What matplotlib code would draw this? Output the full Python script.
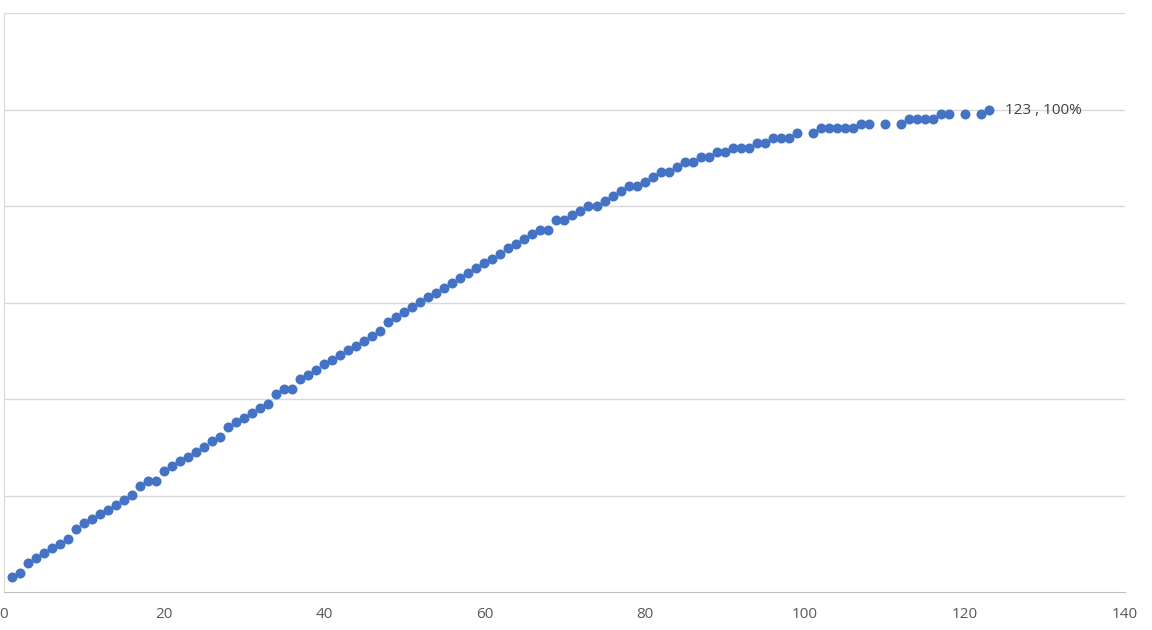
import numpy as np
import matplotlib.pyplot as plt

# x positions (some ranks are missing in the source)
x_vals = list(range(1, 100)) + [101, 102, 103, 104, 105, 106, 107, 108, 110,
                                 112, 113, 114, 115, 116, 117, 118, 120, 122, 123]

# cumulative percentage
cum_pct = [
    3.2, 4.0, 6.1, 7.1, 8.1, 9.1, 10.0, 11.0, 13.1, 14.2,
    15.1, 16.1, 17.1, 18.1, 19.1, 20.2, 22.0, 23.1, 23.1, 25.1,
    26.1, 27.1, 28.0, 29.1, 30.1, 31.2, 32.1, 34.1, 35.2, 36.1,
    37.2, 38.1, 39.0, 41.1, 42.1, 42.1, 44.1, 45.0, 46.1, 47.2,
    48.1, 49.2, 50.2, 51.0, 52.1, 53.1, 54.2, 56.0, 57.1, 58.0,
    59.1, 60.1, 61.2, 62.0, 63.1, 64.1, 65.1, 66.1, 67.2, 68.1,
    69.1, 70.1, 71.2, 72.2, 73.2, 74.1, 75.1, 75.1, 77.1, 77.1,
    78.2, 79.0, 80.0, 80.0, 81.1, 82.1, 83.1, 84.2, 84.2, 85.0,
    86.1, 87.1, 87.1, 88.1, 89.2, 89.2, 90.2, 90.2, 91.1, 91.1,
    92.1, 92.1, 92.1, 93.1, 93.1, 94.2, 94.2, 94.2, 95.2,
    95.2, 96.2, 96.2, 96.2, 96.2, 96.2, 97.1, 97.1, 97.1,
    97.1, 98.1, 98.1, 98.1, 98.1, 99.1, 99.1, 99.1, 99.1, 100.0,
]

x_ticks = [0, 20, 40, 60, 80, 100, 120, 140]
y_grid = [20, 40, 60, 80, 100, 120]

plt.rcParams['font.family'] = ['Open Sans', 'DejaVu Sans']

fig = plt.figure(figsize=(11.52, 6.30), dpi=100)
ax = fig.add_axes([0.0035, 0.0603, 0.973, 0.919])

ax.scatter(x_vals, cum_pct, s=52, color='#4472C4', zorder=3, linewidths=0)

ax.set_xlim(0, 140)
ax.set_ylim(0, 120)
ax.set_xticks(x_ticks)
ax.set_yticks(y_grid)
ax.set_yticklabels([])
ax.tick_params(axis='y', length=0)
ax.tick_params(axis='x', length=0, pad=11, labelsize=11, labelcolor='#595959')
ax.grid(axis='y', color='#d9d9d9', linewidth=1)
ax.set_axisbelow(True)

for side in ['top', 'right']:
    ax.spines[side].set_visible(False)
ax.spines['left'].set_color('#d9d9d9')
ax.spines['bottom'].set_color('#bfbfbf')

# label for the last point
ax.annotate(f"{x_vals[-1]} , {cum_pct[-1]:.0f}%", (x_vals[-1], cum_pct[-1]),
            xytext=(12, -1), textcoords='offset points', va='center',
            fontsize=11, color='#404040')

fig.savefig('out.png', dpi=100)
